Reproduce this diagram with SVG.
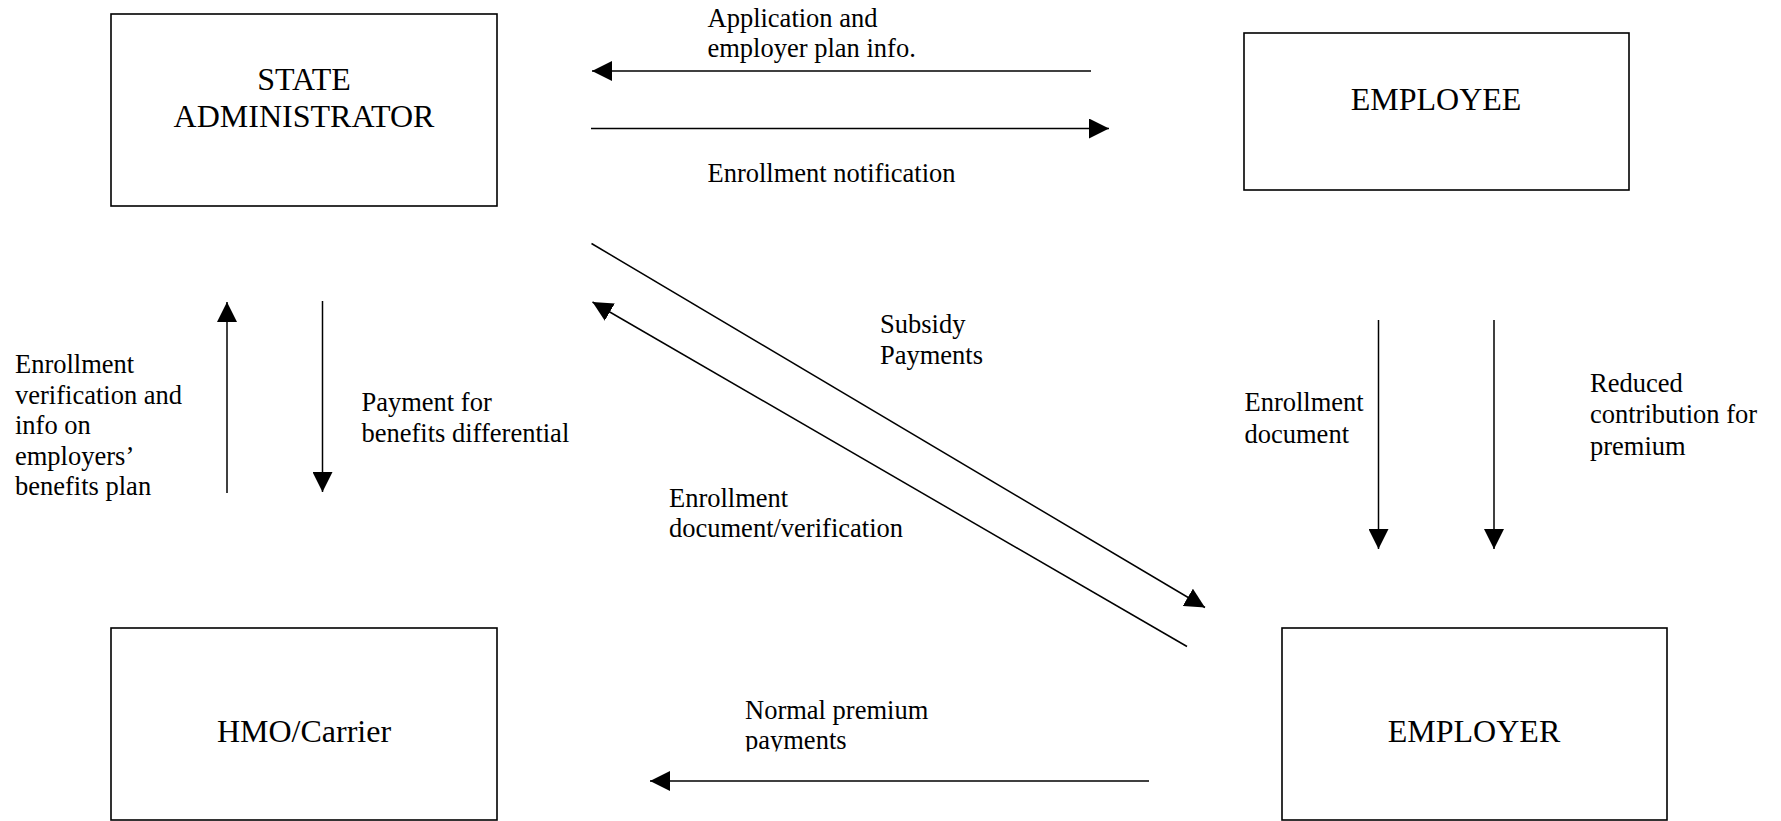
<svg xmlns="http://www.w3.org/2000/svg" width="1781" height="821" viewBox="0 0 1781 821">
  <style>
    .box { fill: #ffffff; stroke: #000000; stroke-width: 1.6; }
    .title { font-family: "Liberation Serif", "Times New Roman", serif; font-size: 32px; fill: #000000; text-anchor: middle; }
    .lbl { font-family: "Liberation Serif", "Times New Roman", serif; font-size: 26.5px; fill: #000000; }
    .conn { stroke: #000000; stroke-width: 1.5; fill: none; marker-end: url(#arrow); }
  </style>
  <defs>
    <marker id="arrow" markerUnits="userSpaceOnUse" markerWidth="20" markerHeight="20" refX="20" refY="10" orient="auto">
      <path d="M0,0 L20,10 L0,20 Z" fill="#000000"/>
    </marker>
    <clipPath id="clipPay">
      <rect x="700" y="690" width="300" height="61.5"/>
    </clipPath>
  </defs>
  <rect x="0" y="0" width="1781" height="821" fill="#ffffff"/>

  <g id="state-administrator">
    <rect class="box" x="111" y="14" width="386" height="192"/>
    <text class="title" x="304" y="90">STATE</text>
    <text class="title" x="304" y="127">ADMINISTRATOR</text>
  </g>

  <g id="employee">
    <rect class="box" x="1244" y="33" width="385" height="157"/>
    <text class="title" x="1436" y="110">EMPLOYEE</text>
  </g>

  <g id="hmo-carrier">
    <rect class="box" x="111" y="628" width="386" height="192"/>
    <text class="title" x="304" y="742">HMO/Carrier</text>
  </g>

  <g id="employer">
    <rect class="box" x="1282" y="628" width="385" height="192"/>
    <text class="title" x="1474" y="742">EMPLOYER</text>
  </g>

  <g id="connectors">
    <line class="conn" x1="1091" y1="71" x2="592" y2="71"/>
    <line class="conn" x1="591" y1="128.5" x2="1109" y2="128.5"/>
    <line class="conn" x1="227" y1="493" x2="227" y2="302"/>
    <line class="conn" x1="322.5" y1="301" x2="322.5" y2="492"/>
    <line class="conn" x1="591.5" y1="243.5" x2="1205" y2="607.5"/>
    <line class="conn" x1="1187" y1="646.5" x2="592.5" y2="302"/>
    <line class="conn" x1="1378.5" y1="320" x2="1378.5" y2="549"/>
    <line class="conn" x1="1494" y1="320" x2="1494" y2="549"/>
    <line class="conn" x1="1149" y1="781" x2="650" y2="781"/>
  </g>

  <g id="labels">
    <text class="lbl" x="707.5" y="27">Application and</text>
    <text class="lbl" x="707.5" y="57">employer plan info.</text>
    <text class="lbl" x="707.5" y="182">Enrollment notification</text>

    <text class="lbl" x="15" y="373">Enrollment</text>
    <text class="lbl" x="15" y="403.5">verification and</text>
    <text class="lbl" x="15" y="434">info on</text>
    <text class="lbl" x="15" y="464.5">employers’</text>
    <text class="lbl" x="15" y="495">benefits plan</text>

    <text class="lbl" x="361.5" y="411">Payment for</text>
    <text class="lbl" x="361.5" y="442">benefits differential</text>

    <text class="lbl" x="880" y="332.5">Subsidy</text>
    <text class="lbl" x="880" y="364">Payments</text>

    <text class="lbl" x="669" y="506.5">Enrollment</text>
    <text class="lbl" x="669" y="537">document/verification</text>

    <text class="lbl" x="1244.5" y="411">Enrollment</text>
    <text class="lbl" x="1244.5" y="442.5">document</text>

    <text class="lbl" x="1590" y="391.5">Reduced</text>
    <text class="lbl" x="1590" y="423">contribution for</text>
    <text class="lbl" x="1590" y="455">premium</text>

    <text class="lbl" x="745" y="719">Normal premium</text>
    <text class="lbl" x="745" y="749" clip-path="url(#clipPay)">payments</text>
  </g>
</svg>
